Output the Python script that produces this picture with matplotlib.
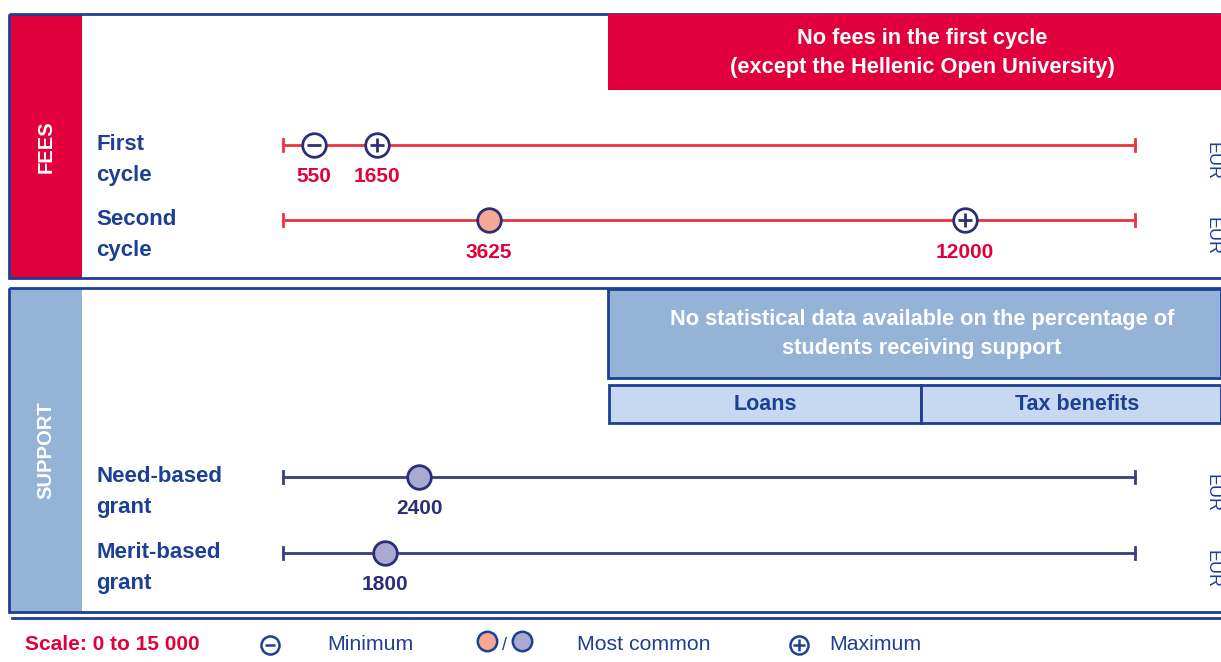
import matplotlib
matplotlib.use("Agg")
import matplotlib.pyplot as plt
from matplotlib.patches import Rectangle

plt.rcParams['font.family'] = ['Liberation Sans', 'DejaVu Sans']

# data
scale_max = 15000
fee_rows = ["First\ncycle", "Second\ncycle"]
fee_min = [550, None]
fee_common = [None, 3625]
fee_max = [1650, 12000]
support_rows = ["Need-based\ngrant", "Merit-based\ngrant"]
support_common = [2400, 1800]

navy = "#1d3f94"
mark = "#2b2f78"
red = "#e2003c"
redline = "#e8353f"
lightblue = "#95b3d7"
paleblue = "#c6d9f1"
salmon = "#f5a993"
lavender = "#a9a9d2"
supline = "#3a3c82"

W, H = 1221, 662
fig = plt.figure(figsize=(W / 100, H / 100), dpi=100)
ax = fig.add_axes([0, 0, 1, 1])
ax.set_xlim(0, W)
ax.set_ylim(H, 0)
ax.axis("off")

# panels
def panel(y0, y1, side):
    ax.add_patch(Rectangle((10, y0), 72, y1 - y0, color=side, lw=0))
    ax.add_patch(Rectangle((9, y0), W, y1 - y0, fill=False, ec=navy, lw=2))

panel(14, 278, red)
panel(288, 612, lightblue)
ax.plot([12, W], [618, 618], color=navy, lw=2)

ax.text(46, 147, "FEES", rotation=90, color="white", fontsize=14.5, weight="bold",
        ha="center", va="center")
ax.text(46, 450, "SUPPORT", rotation=90, color="white", fontsize=14.5, weight="bold",
        ha="center", va="center")

# header boxes
ax.add_patch(Rectangle((608, 14), W - 608, 76, color=red, lw=0))
ax.text(922, 53, "No fees in the first cycle\n(except the Hellenic Open University)",
        color="white", fontsize=15.7, weight="bold", ha="center", va="center", linespacing=1.55)
ax.add_patch(Rectangle((608, 289), W - 608, 89, fc=lightblue, ec=navy, lw=2))
ax.text(922, 334, "No statistical data available on the percentage of\nstudents receiving support",
        color="white", fontsize=15.7, weight="bold", ha="center", va="center", linespacing=1.55)
ax.add_patch(Rectangle((609, 385), 312, 38, fc=paleblue, ec=navy, lw=2))
ax.add_patch(Rectangle((921, 385), W - 921, 38, fc=paleblue, ec=navy, lw=2))
ax.text(765, 405, "Loans", color=navy, fontsize=15.5, weight="bold", ha="center", va="center")
ax.text(1077, 405, "Tax benefits", color=navy, fontsize=15.5, weight="bold", ha="center", va="center")

# data axes
x0, x1 = 283, 1135
dax = fig.add_axes([x0 / W, 0, (x1 - x0) / W, 1])
dax.set_xlim(0, scale_max)
dax.set_ylim(H, 0)
dax.axis("off")
dax.patch.set_alpha(0)

fee_y = [145, 220]
sup_y = [477, 553]

def axis_line(y, col):
    dax.plot([0, scale_max], [y, y], color=col, lw=2, clip_on=False, zorder=1)
    for v in (0, scale_max):
        dax.plot([v, v], [y - 6, y + 6], color=col, lw=2, clip_on=False, zorder=1)
    ax.text(1212, y + 16, "EUR", rotation=-90, color=navy, fontsize=13,
            ha="center", va="center")

def extreme(v, y, sign):
    dax.plot(v, y, "o", ms=17, mfc="white", mec=mark, mew=2, clip_on=False, zorder=3)
    dax.plot(v, y, sign, ms=10, mec=mark, mew=2, clip_on=False, zorder=4)

def value(v, y, col):
    dax.text(v, y + 32, str(v), color=col, fontsize=15, weight="bold",
             ha="center", va="center")

for i, lab in enumerate(fee_rows):
    y = fee_y[i]
    ax.text(96, y + 15, lab, color=navy, fontsize=16, weight="bold", ha="left",
            va="center", linespacing=1.6)
    axis_line(y, redline)
    if fee_min[i] is not None:
        extreme(fee_min[i], y, "_")
        value(fee_min[i], y, red)
    if fee_common[i] is not None:
        dax.plot(fee_common[i], y, "o", ms=17, mfc=salmon, mec=mark, mew=2, zorder=3)
        value(fee_common[i], y, red)
    if fee_max[i] is not None:
        extreme(fee_max[i], y, "+")
        value(fee_max[i], y, red)

for i, lab in enumerate(support_rows):
    y = sup_y[i]
    ax.text(96, y + 15, lab, color=navy, fontsize=16, weight="bold", ha="left",
            va="center", linespacing=1.6)
    axis_line(y, supline)
    dax.plot(support_common[i], y, "o", ms=17, mfc=lavender, mec=mark, mew=2, zorder=3)
    value(support_common[i], y, mark)

# legend
ly = 645
ax.text(25, ly, "Scale: 0 to 15 000", color=red, fontsize=15, weight="bold", ha="left", va="center")
ax.plot(270, ly, "o", ms=13, mfc="white", mec=navy, mew=1.8)
ax.plot(270, ly, "_", ms=7, mec=navy, mew=1.8)
ax.text(327, ly, "Minimum", color=navy, fontsize=15.3, ha="left", va="center")
ax.plot(487, ly - 4, "o", ms=14, mfc=salmon, mec=navy, mew=1.8)
ax.text(505, ly, "/", color=navy, fontsize=13, ha="center", va="center")
ax.plot(522, ly - 4, "o", ms=14, mfc=lavender, mec=navy, mew=1.8)
ax.text(577, ly, "Most common", color=navy, fontsize=15.3, ha="left", va="center")
ax.plot(799, ly, "o", ms=13, mfc="white", mec=navy, mew=1.8)
ax.plot(799, ly, "+", ms=8, mec=navy, mew=1.8)
ax.text(829, ly, "Maximum", color=navy, fontsize=15.3, ha="left", va="center")

fig.savefig("out.png", dpi=100)
